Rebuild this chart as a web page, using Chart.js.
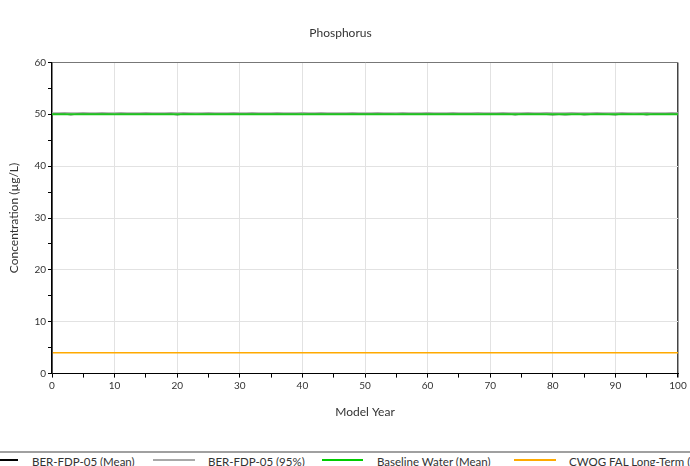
<!DOCTYPE html>
<html><head><meta charset="utf-8">
<script src="https://cdn.jsdelivr.net/npm/chart.js@4/dist/chart.umd.min.js"></script>
<style>
html,body{margin:0;padding:0;background:#fff;overflow:hidden;}
#wrap{position:relative;width:690px;height:466px;overflow:hidden;}
#cv{position:absolute;left:0;top:0;}
#legline{position:absolute;left:0;top:451px;width:690px;height:0;border-top:2px solid #a0a0a0;}
.li{position:absolute;top:455px;font:11.5px Lato,"Liberation Sans",sans-serif;line-height:14px;color:#333;white-space:nowrap;}
.sw{position:absolute;top:459px;height:0;}
</style></head><body>
<div id="wrap">
<canvas id="cv" width="690" height="423"></canvas>
<div id="legline"></div>
<div class="sw" style="left:0;width:18px;border-top:2px solid #000"></div>
<div class="li" style="left:32px">BER-FDP-05 (Mean)</div>
<div class="sw" style="left:153px;width:42px;border-top:2px solid #a8a8a8"></div>
<div class="li" style="left:208px">BER-FDP-05 (95%)</div>
<div class="sw" style="left:322px;width:41px;border-top:2px solid #00cc00"></div>
<div class="li" style="left:377px">Baseline Water (Mean)</div>
<div class="sw" style="left:514px;width:42px;border-top:2px solid #ffaa00"></div>
<div class="li" style="left:569px">CWQG FAL Long-Term (Mean)</div>
</div>
<script>
const years = [0,0,1,2,3,4,5,6,7,8,9,10,11,12,13,14,15,16,17,18,19,20,21,22,23,24,25,26,27,28,29,30,31,32,33,34,35,36,37,38,39,40,41,42,43,44,45,46,47,48,49,50,51,52,53,54,55,56,57,58,59,60,61,62,63,64,65,66,67,68,69,70,71,72,73,74,75,76,77,78,79,80,81,82,83,84,85,86,87,88,89,90,91,92,93,94,95,96,97,98,99,100];
const meanVals = [0,50.0,50.0,50.0,49.9,50.0,50.0,50.0,50.0,50.0,50.0,49.95,50.0,50.0,50.0,50.0,50.0,50.0,50.0,50.0,50.0,49.9,50.0,50.0,49.95,50.0,50.0,50.0,50.0,50.0,50.0,50.0,50.0,50.0,50.0,50.0,50.0,50.0,50.0,50.0,50.0,49.95,50.0,50.0,50.0,50.0,50.0,50.0,50.0,50.0,50.0,50.0,50.0,50.0,50.0,50.0,49.95,50.0,50.0,50.0,50.0,50.0,50.0,50.0,50.0,50.0,50.0,50.0,50.0,49.95,50.0,50.0,50.0,50.0,50.0,49.9,50.0,50.0,50.0,50.0,49.95,49.9,49.95,49.9,49.95,50.0,49.9,49.95,50.0,50.0,49.95,49.9,50.0,50.0,49.95,50.0,49.9,50.0,50.0,50.0,50.0,50.0];
const p95Vals = [0,50.25,50.25,50.3,50.25,50.25,50.3,50.25,50.25,50.3,50.25,50.25,50.3,50.25,50.25,50.25,50.3,50.25,50.25,50.25,50.3,50.25,50.3,50.25,50.25,50.25,50.3,50.25,50.25,50.25,50.3,50.25,50.25,50.3,50.25,50.25,50.25,50.3,50.25,50.25,50.25,50.3,50.25,50.25,50.3,50.25,50.25,50.25,50.25,50.3,50.25,50.25,50.25,50.3,50.25,50.25,50.25,50.3,50.25,50.25,50.25,50.3,50.25,50.25,50.25,50.3,50.25,50.25,50.25,50.3,50.25,50.25,50.25,50.3,50.25,50.25,50.25,50.3,50.25,50.25,50.3,50.25,50.25,50.25,50.3,50.25,50.25,50.25,50.3,50.25,50.25,50.25,50.3,50.25,50.25,50.25,50.3,50.25,50.25,50.25,50.3,50.25];
const baseYears = [0,100];
const baseVals = [50,50];
const cwqgYears = [0,100];
const cwqgVals = [4,4];
const xTicks = [0,10,20,30,40,50,60,70,80,90,100];
const yTicks = [0,10,20,30,40,50,60];

const pts = (xs, ys) => xs.map((x,i)=>({x:x,y:ys[i]}));
const FONT = 'Lato';
new Chart(document.getElementById('cv'), {
  type:'line',
  data:{datasets:[
    {label:'CWQG FAL Long-Term (Mean)', data:pts(cwqgYears,cwqgVals), borderColor:'#ffaa00', borderWidth:1.5, pointRadius:0, order:4},
    {label:'BER-FDP-05 (95%)', data:pts(years,p95Vals), borderColor:'#a8a8a8', borderWidth:1.5, pointRadius:0, order:3},
    {label:'BER-FDP-05 (Mean)', data:pts(years,meanVals), borderColor:'#000', borderWidth:1, pointRadius:0, order:2},
    {label:'Baseline Water (Mean)', data:pts(baseYears,baseVals), borderColor:'#1ec41e', borderWidth:2, pointRadius:0, order:1}
  ]},
  options:{
    responsive:false, animation:false,
    layout:{padding:{left:3,right:12,top:0,bottom:0}},
    plugins:{
      legend:{display:false}, tooltip:{enabled:false},
      title:{display:true,text:'Phosphorus',color:'#333',font:{family:FONT,size:12,weight:'normal'},padding:{top:26,bottom:22}}
    },
    scales:{
      x:{type:'linear',min:0,max:100,
        ticks:{stepSize:5,color:'#333',font:{family:FONT,size:10},padding:2,maxRotation:0,autoSkip:false,
          callback:v=> xTicks.includes(v)? String(v):''},
        grid:{color:c=> (c.tick && c.tick.value===100)?'#444':((c.tick && c.tick.value%10===0 && c.tick.value>0)?'#e2e2e2':'rgba(0,0,0,0)'),
          tickColor:'#000',tickLength:4,lineWidth:c=>(c.tick&&c.tick.value===100)?1.5:1},
        border:{color:'#000',width:1},
        title:{display:true,text:'Model Year',color:'#333',font:{family:FONT,size:12},padding:{top:11}}
      },
      y:{min:0,max:60,
        ticks:{stepSize:5,color:'#333',font:{family:FONT,size:10},padding:2,autoSkip:false,
          callback:v=> yTicks.includes(v)? String(v):''},
        grid:{color:c=> (c.tick && c.tick.value===60)?'#777':((c.tick && c.tick.value%10===0 && c.tick.value>0)?'#e2e2e2':'rgba(0,0,0,0)'),
          tickColor:'#000',tickLength:4},
        border:{color:'#000',width:1.5},
        title:{display:true,text:'Concentration (µg/L)',color:'#333',font:{family:FONT,size:12},padding:{bottom:11}}
      }
    }
  }
});
</script>
</body></html>
